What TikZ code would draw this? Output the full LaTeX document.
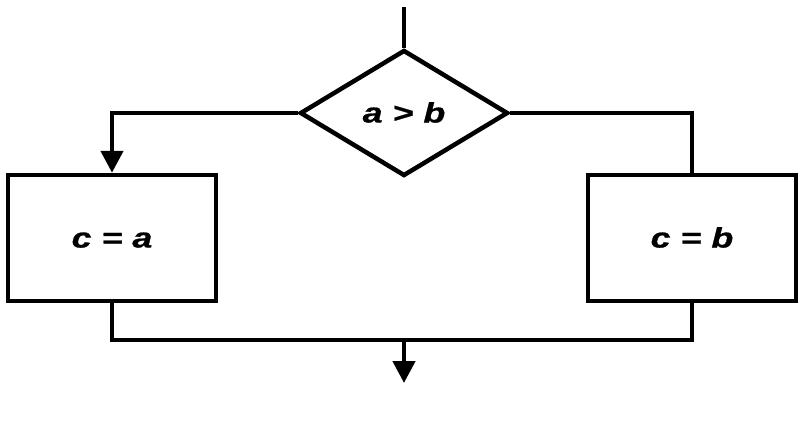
\documentclass[tikz,border=0pt]{standalone}
\usepackage{fontspec}
\setmainfont{Liberation Sans}
\newfontface\lblfont{Liberation Sans Bold Italic}[FakeBold=0.8]
\usetikzlibrary{arrows.meta,positioning,shapes.geometric}
\newcommand{\wide}[1]{\scalebox{1.28}[1]{#1}}
\tikzset{
  >={Triangle[length=22pt,width=22pt]},
  block/.style={draw,line width=4.5pt,minimum width=208pt,minimum height=126pt,inner sep=0pt,text height=19pt,text depth=0pt},
  cond/.style={draw,diamond,line width=4.5pt,aspect=1.65,minimum width=208pt,minimum height=126pt,inner sep=0pt,text height=19pt,text depth=0pt},
  line/.style={line width=4.5pt},
  arrow/.style={line,->},
}
\begin{document}
\begin{tikzpicture}[x=1pt,y=-1pt,font=\fontsize{28}{32}\lblfont]
  \useasboundingbox (0,0) rectangle (803,434);
  \node[cond] (test) at (404,113) {\wide{a > b}};
  \node[block] (yes) at (112,238) {\wide{c = a}};
  \node[block] (no) at (692,238) {\wide{c = b}};
  \coordinate (in) at (404,7);
  \coordinate (join) at (404,340);
  \coordinate (out) at (404,383);
  \draw[line] (in) -- (test.north);
  \draw[arrow] (test.west) -| (yes.north);
  \draw[line] (test.east) -| (no.north);
  \draw[line] (yes.south) |- (join) -| (no.south);
  \draw[arrow] (join) -- (out);
\end{tikzpicture}
\end{document}
